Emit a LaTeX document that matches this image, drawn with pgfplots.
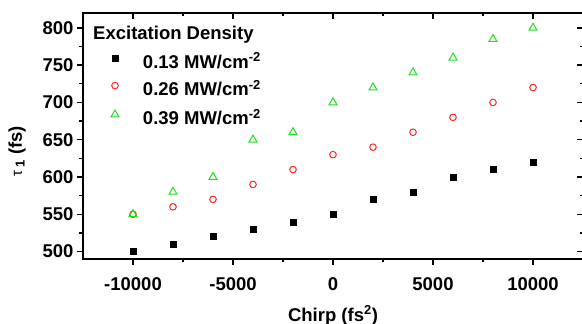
\documentclass[border=0pt]{standalone}
\usepackage{fontspec}
\setmainfont{Liberation Sans}
\usepackage{pgfplots}
\pgfplotsset{compat=1.18}
\definecolor{ored}{RGB}{255,40,40}
\definecolor{ogreen}{RGB}{30,225,30}
\newcommand{\bigf}{\bfseries\fontsize{18.5}{20}\selectfont}
\pgfplotsset{
  mylegend/.style={legend image code/.code={%
    \path[draw=none] (-7pt,0pt) rectangle (7pt,1pt);
    \draw[##1] plot[only marks] coordinates {(0pt,5.5pt)};}},
  common/.style={
    scale only axis, width=500pt, height=246pt,
    xmin=-12500, xmax=12500, ymin=490, ymax=820,
    scaled ticks=false,
    xtick={-10000,-5000,0,5000,10000},
    ytick={500,550,600,650,700,750,800},
    minor x tick num=1, minor y tick num=1,
    axis line style={line width=1.5pt},
    major tick length=6pt, minor tick length=3.5pt,
    every tick/.style={line width=1.4pt, black},
    every minor tick/.style={line width=1.2pt, black},
  }
}
\begin{document}
\begin{tikzpicture}
\begin{axis}[common,
  tick align=outside,
  xtick pos=bottom, ytick pos=left,
  xticklabels={-10000,-5000,0,5000,10000},
  yticklabels={500,550,600,650,700,750,800},
  ticklabel style={font=\bigf},
  xticklabel style={yshift=-9pt},
  xlabel={Chirp (fs\textsuperscript{2})},
  ylabel={{\mdseries\fontsize{15}{15}\selectfont τ}\,\textsubscript{1} (fs)},
  label style={font=\bigf},
  xlabel style={at={(axis description cs:0.5,-0.253)}, anchor=base},
  ylabel style={at={(axis description cs:-0.132,0.437)}, anchor=center},
  legend style={at={(0.05,0.83)}, anchor=north west, draw=none, fill=none,
    inner sep=0pt, outer sep=0pt, font=\bigf,
    nodes={inner sep=0pt, text height=13.3pt, text depth=4pt},
    row sep=10.2pt, column sep=21pt},
  legend cell align=left,
]
\addplot[only marks, mark=square*, mark size=3pt, black, mylegend] coordinates {
(-10000,500) (-8000,510) (-6000,520) (-4000,530) (-2000,540) (0,550)
(2000,570) (4000,580) (6000,600) (8000,610) (10000,620)};
\addlegendentry{0.13 MW/cm\textsuperscript{-2}}
\addplot[only marks, mark=o, mark size=3.3pt, ored, line width=1pt, mylegend] coordinates {
(-10000,550) (-8000,560) (-6000,570) (-4000,590) (-2000,610) (0,630)
(2000,640) (4000,660) (6000,680) (8000,700) (10000,720)};
\addlegendentry{0.26 MW/cm\textsuperscript{-2}}
\addplot[only marks, mark=triangle, mark size=4.6pt, ogreen, line width=1pt, mylegend] coordinates {
(-10000,550) (-8000,580) (-6000,600) (-4000,650) (-2000,660) (0,700)
(2000,720) (4000,740) (6000,760) (8000,785) (10000,800)};
\addlegendentry{0.39 MW/cm\textsuperscript{-2}}
\node[anchor=base west, inner sep=0pt, font=\bigf] at ([shift={(10pt,-26.5pt)}]rel axis cs:0,1) {Excitation Density};
\end{axis}
\begin{axis}[common,
  tick align=inside,
  xtick pos=top, ytick pos=right,
  xticklabels={}, yticklabels={},
]
\end{axis}
\pgfresetboundingbox
\path ([shift={(-83pt,-65pt)}]current axis.south west) rectangle ([shift={(499pt,13pt)}]current axis.north west);
\end{tikzpicture}
\end{document}
